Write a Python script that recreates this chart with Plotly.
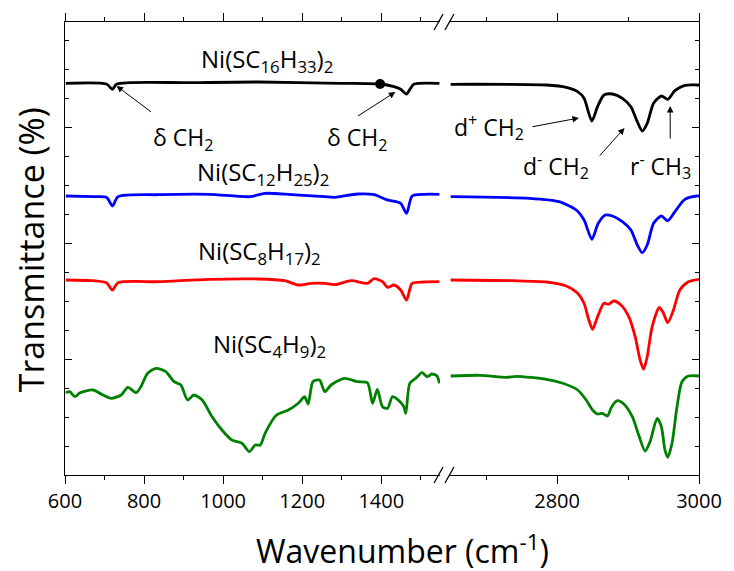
import plotly.graph_objects as go

# ---------------- data (wavenumber in cm^-1, transmittance in a.u., offset stacked) ----------
black_left_x = [602, 705, 720, 731, 922, 1089, 1298, 1397, 1432, 1449, 1464, 1474, 1483, 1547]
black_left_y = [391.7, 391.0, 385.7, 391.0, 392.3, 393.0, 391.7, 391.0, 388.3, 385.7, 381.0, 386.7, 391.0, 391.7]

blue_left_x = [602, 671, 705, 720, 734, 838, 964, 1068, 1106, 1173, 1257, 1282, 1340, 1382,
               1411, 1424, 1449, 1464, 1478, 1508, 1547]
blue_left_y = [279.0, 278.3, 277.7, 269.0, 278.3, 280.3, 280.7, 278.3, 281.7, 280.3, 278.3, 277.7,
               281.0, 280.3, 275.7, 274.3, 271.7, 261.7, 279.0, 280.7, 280.7]

red_left_x = [602, 671, 705, 720, 734, 838, 964, 1089, 1156, 1190, 1223, 1257, 1282, 1324, 1365,
              1382, 1403, 1416, 1432, 1449, 1464, 1478, 1508, 1547]
red_left_y = [195.0, 194.3, 192.3, 185.0, 192.3, 193.3, 195.7, 196.0, 194.3, 190.0, 191.7, 191.7,
              190.3, 194.3, 191.7, 196.3, 193.3, 187.7, 190.0, 185.0, 175.0, 191.7, 193.0, 193.3]

green_left_x = [602, 612, 625, 638, 671, 696, 717, 742, 759, 780, 792, 809, 830, 855, 876, 893,
                910, 926, 947, 972, 997, 1022, 1048, 1066, 1081, 1094, 1106, 1135, 1165, 1190,
                1206, 1215, 1227, 1244, 1257, 1273, 1307, 1340, 1365, 1378, 1390, 1403, 1416,
                1428, 1441, 1457, 1462, 1472, 1487, 1503, 1516, 1528, 1541, 1547]
green_left_y = [82.3, 83.3, 78.3, 82.3, 85.0, 80.0, 76.7, 80.0, 87.7, 82.3, 88.3, 101.7, 106.7,
                103.3, 93.3, 90.0, 75.0, 80.0, 75.0, 58.3, 45.0, 35.0, 31.7, 23.3, 30.0, 30.0,
                41.7, 60.0, 65.0, 71.7, 78.3, 71.0, 93.3, 95.0, 83.3, 90.0, 96.7, 93.3, 92.3,
                71.7, 85.7, 68.3, 66.7, 78.3, 75.7, 68.3, 61.7, 91.7, 96.7, 102.3, 98.3, 101.0,
                99.0, 91.7]

black_right_x = [2650, 2785, 2813, 2829, 2838, 2849, 2857, 2866, 2878, 2892, 2904, 2913, 2920,
                 2927, 2936, 2947, 2956, 2966, 2980, 2997, 3000]
black_right_y = [390.7, 390.0, 387.7, 383.3, 376.7, 354.0, 368.3, 380.0, 381.0, 376.7, 368.3,
                 353.3, 344.0, 351.7, 371.7, 379.0, 375.7, 384.3, 389.7, 390.0, 390.0]

blue_right_x = [2650, 2761, 2803, 2827, 2838, 2849, 2858, 2868, 2878, 2892, 2904, 2913, 2920,
                2927, 2936, 2947, 2956, 2966, 2980, 2997, 3000]
blue_right_y = [278.3, 276.7, 273.3, 265.0, 255.0, 235.7, 251.7, 260.0, 259.0, 253.3, 245.0,
                230.0, 222.3, 230.0, 251.7, 259.0, 254.3, 263.3, 275.7, 279.0, 279.0]

red_right_x = [2650, 2738, 2785, 2813, 2829, 2838, 2844, 2850, 2857, 2866, 2872, 2880, 2890,
               2901, 2910, 2917, 2922, 2927, 2934, 2944, 2950, 2956, 2964, 2973, 2985, 3000]
red_right_y = [195.0, 194.3, 193.0, 189.0, 181.7, 171.7, 156.7, 145.7, 158.3, 171.7, 170.7,
               174.0, 170.0, 158.3, 138.3, 115.0, 105.7, 118.3, 148.3, 167.7, 161.7, 152.3,
               165.0, 185.0, 193.3, 195.7]

green_right_x = [2650, 2691, 2729, 2743, 2785, 2808, 2829, 2841, 2850, 2857, 2864, 2871, 2877,
                 2885, 2894, 2906, 2915, 2924, 2931, 2941, 2947, 2952, 2956, 2962, 2969, 2976,
                 2985, 3000]
green_right_y = [99.0, 99.7, 97.7, 98.7, 95.7, 91.7, 85.0, 75.0, 65.0, 61.0, 61.7, 59.0, 68.3,
                 74.3, 71.0, 58.3, 40.0, 24.0, 33.3, 56.7, 48.3, 25.0, 17.7, 31.7, 68.3, 93.3,
                 99.0, 99.0]

marker_x = [1397]
marker_y = [391.0]

series = [
    ("Ni(SC16H33)2", "#000000", black_left_x, black_left_y, black_right_x, black_right_y),
    ("Ni(SC12H25)2", "#0000FF", blue_left_x, blue_left_y, blue_right_x, blue_right_y),
    ("Ni(SC8H17)2", "#FF0000", red_left_x, red_left_y, red_right_x, red_right_y),
    ("Ni(SC4H9)2", "#008000", green_left_x, green_left_y, green_right_x, green_right_y),
]

FONT = "Open Sans"

fig = go.Figure()
for name, col, lx, ly, rx, ry in series:
    fig.add_trace(go.Scatter(x=lx, y=ly, xaxis="x", yaxis="y", mode="lines", name=name,
                             line=dict(color=col, width=2.8, shape="spline", smoothing=0.7),
                             showlegend=False, hoverinfo="skip"))
    fig.add_trace(go.Scatter(x=rx, y=ry, xaxis="x2", yaxis="y2", mode="lines", name=name,
                             line=dict(color=col, width=2.8, shape="spline", smoothing=0.7),
                             showlegend=False, hoverinfo="skip"))

fig.add_trace(go.Scatter(x=marker_x, y=marker_y, xaxis="x", yaxis="y", mode="markers",
                         marker=dict(color="black", size=10), showlegend=False, hoverinfo="skip"))

L, R, T, B = 65, 30, 22, 96
W, H = 734, 571
pw, ph = W - L - R, H - T - B


def px(xp):
    return (xp - L) / pw


def py(yp):
    return (H - B - yp) / ph


axis_common = dict(showline=True, linecolor="black", linewidth=1.3, showgrid=False,
                   zeroline=False, ticks="outside", ticklen=8, tickwidth=1.2, tickcolor="black",
                   mirror="allticks",
                   tickfont=dict(family=FONT, size=20, color="black"),
                   minor=dict(ticks="outside", ticklen=4, tickwidth=1, tickcolor="black", dtick=100))

yaxis_common = dict(range=[0, 453], showline=True, linecolor="black", linewidth=1.3,
                    showgrid=False, zeroline=False, showticklabels=False,
                    ticks="inside", ticklen=7, tickwidth=1, tickcolor="black",
                    tick0=0, dtick=116,
                    minor=dict(ticks="inside", ticklen=4, tickwidth=1, tickcolor="black", dtick=29))

fig.update_layout(
    width=W, height=H,
    margin=dict(l=L, r=R, t=T, b=B),
    paper_bgcolor="white", plot_bgcolor="white",
    xaxis=dict(domain=[0, px(443)], range=[600, 1548.6], tick0=600, dtick=200, anchor="y",
               **axis_common),
    xaxis2=dict(domain=[px(453), 1], range=[2649, 3000], tick0=2800, dtick=200, anchor="y2",
                **axis_common),
    yaxis=dict(domain=[0, 1], anchor="x", side="left", **yaxis_common),
    yaxis2=dict(domain=[0, 1], anchor="x2", side="right", matches="y", **yaxis_common),
)

ann = []
labels = [
    ("Ni(SC<sub>16</sub>H<sub>33</sub>)<sub>2</sub>", 269, 60, 24),
    ("Ni(SC<sub>12</sub>H<sub>25</sub>)<sub>2</sub>", 265, 173, 24),
    ("Ni(SC<sub>8</sub>H<sub>17</sub>)<sub>2</sub>", 261, 252, 24),
    ("Ni(SC<sub>4</sub>H<sub>9</sub>)<sub>2</sub>", 271, 345, 24),
    ("δ CH<sub>2</sub>", 184, 138, 23),
    ("δ CH<sub>2</sub>", 359, 138, 23),
    ("d<sup>+</sup> CH<sub>2</sub>", 492, 127, 23),
    ("d<sup>-</sup> CH<sub>2</sub>", 560, 166, 23),
    ("r<sup>-</sup> CH<sub>3</sub>", 665, 166, 23),
]
for txt, xx, yy, fs in labels:
    ann.append(dict(text=txt, xref="paper", yref="paper", x=px(xx), y=py(yy),
                    xanchor="center", yanchor="middle", showarrow=False,
                    font=dict(family=FONT, size=fs, color="black")))

arrows = [
    ("x", "y", 730.5, 389, 36, 27),
    ("x", "y", 1435.6, 383, -39, 25),
    ("x2", "y2", 2830.8, 357, -48, 9),
    ("x2", "y2", 2895, 347, -26, 29),
    ("x2", "y2", 2959.4, 369, 0, 34),
]
for xr, yr, hx, hy, ax, ay in arrows:
    ann.append(dict(text="", xref=xr, yref=yr, x=hx, y=hy, ax=ax, ay=ay, axref="pixel",
                    ayref="pixel", showarrow=True, arrowhead=2, arrowsize=1.3, arrowwidth=1,
                    arrowcolor="black", standoff=0))

ann.append(dict(text="Wavenumber (cm<sup>-1</sup>)", xref="paper", yref="paper",
                x=px(405), y=py(549), xanchor="center", yanchor="middle", showarrow=False,
                font=dict(family=FONT, size=32, color="black")))
ann.append(dict(text="Transmittance (%)", xref="paper", yref="paper", textangle=-90,
                x=px(31), y=py(250), xanchor="center", yanchor="middle", showarrow=False,
                font=dict(family=FONT, size=34, color="black")))
fig.update_layout(annotations=ann)

# axis break marks
shapes = []
for yb in (475, 22):
    for x0 in (437, 448):
        shapes.append(dict(type="line", xref="paper", yref="paper",
                           x0=px(x0), y0=py(yb + 8), x1=px(x0 + 9), y1=py(yb - 8),
                           line=dict(color="black", width=1.3)))
fig.update_layout(shapes=shapes)

fig.write_html("out.html", config={"displayModeBar": False},
               post_script="document.body.style.margin='0';document.body.style.padding='0';")
